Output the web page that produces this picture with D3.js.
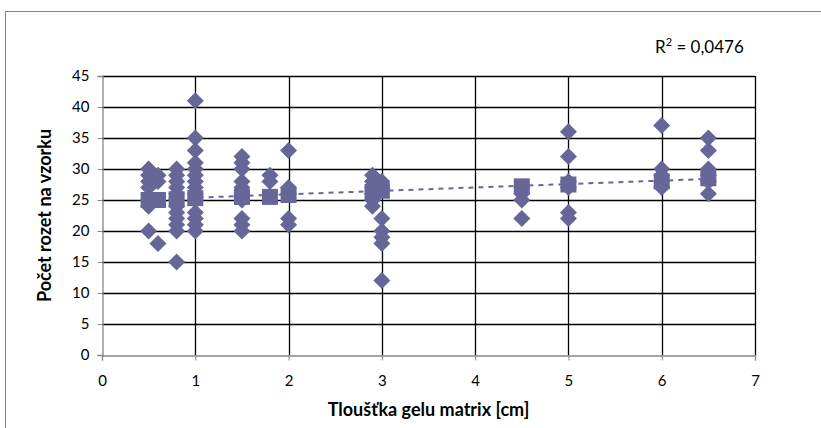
<!DOCTYPE html>
<html><head><meta charset="utf-8">
<script src="https://cdn.jsdelivr.net/npm/d3@7"></script>
<style>body{margin:0;background:#fff}svg{display:block}</style>
</head><body><svg id="c" width="821" height="428"></svg>
<script>
// measured points (diamonds)
const thickness = [
  0.5,0.5,0.5,0.5,0.5,0.5,0.5,
  0.6,0.6,0.6,
  0.8,0.8,0.8,0.8,0.8,0.8,0.8,0.8,0.8,0.8,0.8,0.8,
  1,1,1,1,1,1,1,1,1,1,1,1,1,1,
  1.5,1.5,1.5,1.5,1.5,1.5,1.5,1.5,1.5,1.5,
  1.8,1.8,
  2,2,2,2,2,
  2.9,2.9,2.9,2.9,2.9,2.9,
  3,3,3,3,3,3,3,
  4.5,4.5,4.5,4.5,
  5,5,5,5,5,5,
  6,6,6,6,6,
  6.5,6.5,6.5,6.5,6.5,6.5
];
const rosettes = [
  30,29,28,27,25,24,20,
  29,28,18,
  30,29,27,26,25,24,23,22,21,20,15,28,
  41,35,33,31,30,29,28,27,26,25,23,22,21,20,
  32,31,30,28,27,26,25,22,21,20,
  29,28,
  33,27,26,22,21,
  29,28,27,26,25,24,
  28,27,22,20,19,18,12,
  27,26,25,22,
  36,32,28,27,23,22,
  37,30,29,28,27,
  35,33,30,29,28,26
];
// predicted values (squares)
const predX = [0.5,0.6,0.8,1,1.5,1.8,2,2.9,3,4.5,5,6,6.5];
const predY = [25,25,25.1,25.3,25.5,25.5,25.8,26.3,26.5,27.2,27.5,28,28.5];
// linear trendline endpoints
const trendX = [0.5, 6.5];
const trendY = [25.1, 28.4];
const xTicks = [0,1,2,3,4,5,6,7];
const yTicks = [0,5,10,15,20,25,30,35,40,45];
const xTitle = "Tloušťka gelu matrix [cm]";
const yTitle = "Počet rozet na vzorku";
const r2Value = "0,0476";

const svg = d3.select("#c");
const font = "Lato, 'Open Sans', sans-serif";
const col = "#666699";

// outer chart border
svg.append("rect").attr("x",5.5).attr("y",11.5).attr("width",840).attr("height",440)
  .attr("fill","none").attr("stroke","#868686").attr("stroke-width",1);

const x = d3.scaleLinear().domain([0,7]).range([102,755]);
const y = d3.scaleLinear().domain([0,45]).range([355,76]);

// gridlines
const g = svg.append("g");
g.selectAll(".hg").data(yTicks.filter(d=>d>0)).join("line")
  .attr("x1",x(0)).attr("x2",x(7))
  .attr("y1",d=>Math.round(y(d))+0.5).attr("y2",d=>Math.round(y(d))+0.5)
  .attr("stroke","#000").attr("stroke-width",1.3);
g.selectAll(".vg").data(xTicks.filter(d=>d>0)).join("line")
  .attr("x1",d=>Math.round(x(d))+0.5).attr("x2",d=>Math.round(x(d))+0.5)
  .attr("y1",y(45)).attr("y2",y(0))
  .attr("stroke","#000").attr("stroke-width",1.3);

// axes
const xAxis = svg.append("g").attr("transform",`translate(0,${Math.round(y(0))+0.5})`)
  .call(d3.axisBottom(x).tickValues(xTicks).tickSize(5).tickPadding(15).tickFormat(d3.format("d")));
const yAxis = svg.append("g").attr("transform",`translate(${Math.round(x(0))+0.5},0)`)
  .call(d3.axisLeft(y).tickValues(yTicks).tickSize(5).tickPadding(8).tickFormat(d3.format("d")));
[xAxis,yAxis].forEach(a=>{
  a.select(".domain").attr("stroke","#868686").attr("stroke-width",1.3);
  a.selectAll(".tick line").attr("stroke","#868686");
  a.selectAll("text").attr("font-family",font).attr("font-size",15).attr("fill","#000");
});

// trendline
svg.append("path")
  .datum(trendX.map((d,i)=>[d,trendY[i]]))
  .attr("d",d3.line().x(d=>x(d[0])).y(d=>y(d[1])))
  .attr("fill","none").attr("stroke",col).attr("stroke-width",2)
  .attr("stroke-dasharray","5,5");

// diamonds
const dr = 8.5;
svg.append("g").selectAll("path").data(thickness.map((d,i)=>[d,rosettes[i]])).join("path")
  .attr("d",d=>{const cx=x(d[0]),cy=y(d[1]);return `M${cx},${cy-dr}L${cx+dr},${cy}L${cx},${cy+dr}L${cx-dr},${cy}Z`;})
  .attr("fill",col);

// squares
const sq = 16;
svg.append("g").selectAll("rect").data(predX.map((d,i)=>[d,predY[i]])).join("rect")
  .attr("x",d=>x(d[0])-sq/2).attr("y",d=>y(d[1])-sq/2)
  .attr("width",sq).attr("height",sq).attr("fill",col);

// R² label
const t = svg.append("text").attr("x",655).attr("y",53).attr("font-family",font).attr("font-size",17).attr("fill","#000");
t.append("tspan").text("R");
t.append("tspan").attr("dy",-7).attr("font-size",11).text("2");
t.append("tspan").attr("dy",7).text(" = " + r2Value);

// titles
svg.append("text").attr("x",(x(0)+x(7))/2).attr("y",416).attr("text-anchor","middle")
  .attr("font-family",font).attr("font-size",18).attr("font-weight","bold").text(xTitle);
svg.append("text").attr("transform",`translate(51,${(y(0)+y(45))/2}) rotate(-90)`).attr("text-anchor","middle")
  .attr("font-family",font).attr("font-size",18).attr("font-weight","bold").text(yTitle);
</script></body></html>
